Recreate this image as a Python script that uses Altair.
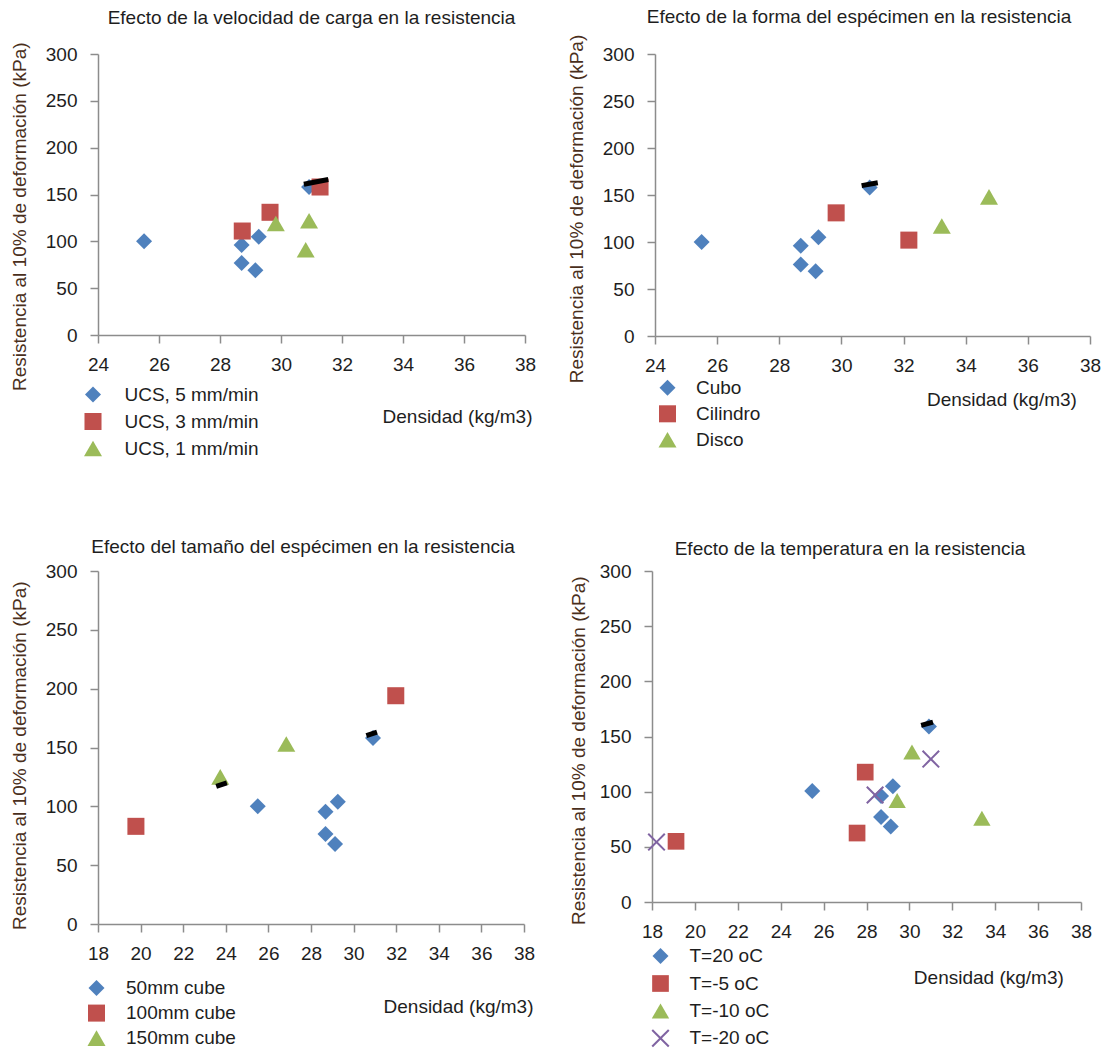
import altair as alt
import pandas as pd

FONT = "Liberation Sans"
TXT = "#1e1e1e"
YTITLE = "#4a2f1c"
AXC = "#8c8c8c"
BLUE, RED, GREEN, PURPLE = "#4F81BD", "#C0504D", "#9BBB59", "#8064A2"
X_PATH = ("M-1,-0.84L-0.16,0L-1,0.84L-0.84,1L0,0.16L0.84,1L1,0.84L0.16,0"
          "L1,-0.84L0.84,-1L0,-0.16L-0.84,-1Z")

X_TITLE = "Densidad (kg/m3)"
Y_TITLE = "Resistencia al 10% de deformación (kPa)"
Y_TICKS = [0, 50, 100, 150, 200, 250, 300]

# ---------------- Panel 1: velocidad de carga ----------------
p1_title = "Efecto de la velocidad de carga en la resistencia"
p1_series = ["UCS, 5 mm/min", "UCS, 3 mm/min", "UCS, 1 mm/min"]
p1_s1_x = [25.51, 28.71, 28.71, 29.16, 29.27, 30.92]
p1_s1_y = [100, 96, 77, 69, 105, 158]
p1_s2_x = [28.73, 29.64, 31.28]
p1_s2_y = [111, 131, 158]
p1_s3_x = [29.83, 30.81, 30.92]
p1_s3_y = [119, 91, 122]
p1_smudge_x = [30.75, 31.55]
p1_smudge_y = [161, 166]

# ---------------- Panel 2: forma del espécimen ----------------
p2_title = "Efecto de la forma del espécimen en la resistencia"
p2_series = ["Cubo", "Cilindro", "Disco"]
p2_s1_x = [25.5, 28.69, 28.69, 29.17, 29.26, 30.91]
p2_s1_y = [100, 96, 76, 69, 105, 158]
p2_s2_x = [29.83, 32.17]
p2_s2_y = [131, 102]
p2_s3_x = [33.23, 34.75]
p2_s3_y = [117, 148]
p2_smudge_x = [30.65, 31.17]
p2_smudge_y = [160, 163]

# ---------------- Panel 3: tamaño del espécimen ----------------
p3_title = "Efecto del tamaño del espécimen en la resistencia"
p3_series = ["50mm cube", "100mm cube", "150mm cube"]
p3_s1_x = [25.5, 28.68, 28.68, 29.13, 29.26, 30.91]
p3_s1_y = [100, 95.5, 76.5, 68, 104, 158]
p3_s2_x = [19.78, 31.98]
p3_s2_y = [83, 194]
p3_s3_x = [23.74, 26.84]
p3_s3_y = [125, 153]
p3_smudge_x = [30.6, 31.1]
p3_smudge_y = [160, 163]
p3_smudge2_x = [23.55, 24.05]
p3_smudge2_y = [117, 120]

# ---------------- Panel 4: temperatura ----------------
p4_title = "Efecto de la temperatura en la resistencia"
p4_series = ["T=20 oC", "T=-5 oC", "T=-10 oC", "T=-20 oC"]
p4_s1_x = [25.47, 28.68, 28.68, 29.13, 29.23, 30.91]
p4_s1_y = [100.5, 96, 77, 68.5, 105, 159]
p4_s2_x = [19.12, 27.56, 27.94]
p4_s2_y = [55, 62.5, 117.7]
p4_s3_x = [29.43, 30.12, 33.38]
p4_s3_y = [92, 136, 76]
p4_s4_x = [18.21, 28.4, 31.0]
p4_s4_y = [54.3, 97, 129.5]
p4_smudge_x = [30.55, 31.1]
p4_smudge_y = [160, 163]

COLORS = [BLUE, RED, GREEN, PURPLE]
SHAPES = ["diamond", "square", "triangle-up", X_PATH]
SIZES = [256, 324, 300, 290]


def points_df(series, xs_list, ys_list):
    rows = []
    for name, xs, ys in zip(series, xs_list, ys_list):
        for xv, yv in zip(xs, ys):
            rows.append({"serie": name, "x": xv, "y": yv})
    return pd.DataFrame(rows)


def smudge_df(segs):
    rows = []
    for i, (xs, ys) in enumerate(segs):
        for xv, yv in zip(xs, ys):
            rows.append({"seg": i, "x": xv, "y": yv})
    return pd.DataFrame(rows)


def panel(title, series, pts, segs, xdom, w, h, t_off, t_dx,
          ytx, yty, xtx, xty, lx, ly, rowpad, loff):
    n = len(series)
    xenc = alt.X("x:Q",
                 scale=alt.Scale(domain=xdom, nice=False, zero=False),
                 axis=alt.Axis(values=list(range(xdom[0], xdom[1] + 1, 2)),
                               format="d", title=X_TITLE,
                               titleX=xtx, titleY=xty, titleAlign="right",
                               titleBaseline="middle", titleAngle=0,
                               labelPadding=12, labelFlush=False,
                               labelOverlap=False))
    yenc = alt.Y("y:Q",
                 scale=alt.Scale(domain=[0, 300], nice=False),
                 axis=alt.Axis(values=Y_TICKS, title=Y_TITLE,
                               titleX=ytx, titleY=yty, titleAngle=270,
                               titleAlign="center", titleBaseline="middle",
                               titleColor=YTITLE, labelPadding=13))
    leg = alt.Legend(title=None, orient="none", legendX=lx, legendY=ly,
                     labelFont=FONT, labelFontSize=19, labelColor=TXT,
                     symbolSize=200, symbolStrokeWidth=0, rowPadding=rowpad,
                     labelOffset=loff, padding=0, labelLimit=400)
    p = alt.Chart(pts).mark_point(filled=True, opacity=1).encode(
        x=xenc, y=yenc,
        color=alt.Color("serie:N", sort=series,
                        scale=alt.Scale(domain=series, range=COLORS[:n]),
                        legend=leg),
        shape=alt.Shape("serie:N", sort=series,
                        scale=alt.Scale(domain=series, range=SHAPES[:n]),
                        legend=leg),
        size=alt.Size("serie:N", sort=series,
                      scale=alt.Scale(domain=series, range=SIZES[:n]),
                      legend=None),
    )
    s = alt.Chart(smudge_df(segs)).mark_line(
        color="black", strokeWidth=5, strokeCap="butt"
    ).encode(x=xenc, y=yenc, detail="seg:N")
    return alt.layer(p, s).properties(
        width=w, height=h,
        title=alt.Title(title, font=FONT, fontSize=19, fontWeight="normal",
                        color=TXT, anchor="middle", frame="group",
                        offset=t_off, dx=t_dx, baseline="middle"),
    )


c1 = panel(p1_title, p1_series,
           points_df(p1_series, [p1_s1_x, p1_s2_x, p1_s3_x],
                     [p1_s1_y, p1_s2_y, p1_s3_y]),
           [(p1_smudge_x, p1_smudge_y)], [24, 38], 427, 281, 5.2, 0,
           -78.7, 162.2, 434, 81.5, -14.5, 331, 7, 22)
c2 = panel(p2_title, p2_series,
           points_df(p2_series, [p2_s1_x, p2_s2_x, p2_s3_x],
                     [p2_s1_y, p2_s2_y, p2_s3_y]),
           [(p2_smudge_x, p2_smudge_y)], [24, 38], 435, 282, -2.2, -13.5,
           -78.5, 154.5, 421.4, 63.5, 3, 324.3, 6, 19)
c3 = panel(p3_title, p3_series,
           points_df(p3_series, [p3_s1_x, p3_s2_x, p3_s3_x],
                     [p3_s1_y, p3_s2_y, p3_s3_y]),
           [(p3_smudge_x, p3_smudge_y), (p3_smudge2_x, p3_smudge2_y)],
           [18, 38], 426, 353, -3.8, -8,
           -78.7, 184.2, 435, 82.1, -11, 407.6, 5, 20)
c4 = panel(p4_title, p4_series,
           points_df(p4_series, [p4_s1_x, p4_s2_x, p4_s3_x, p4_s4_x],
                     [p4_s1_y, p4_s2_y, p4_s3_y, p4_s4_y]),
           [(p4_smudge_x, p4_smudge_y)], [18, 38], 429, 331, -5.8, -16.5,
           -73.7, 179.2, 411.3, 75.7, -1, 375.6, 7.4, 19.5)

RES = dict(x="independent", y="independent", color="independent",
           shape="independent", size="independent")

top = alt.hconcat(c1, c2, spacing=130, bounds="flush").resolve_scale(**RES)
bottom = alt.hconcat(c3, c4, spacing=128, bounds="flush").resolve_scale(**RES)

chart = alt.vconcat(top, bottom, spacing=517, bounds="flush").resolve_scale(
    **RES
).properties(
    padding={"left": 10, "top": 8, "right": 0, "bottom": 0},
    background="white",
).configure_view(stroke=None).configure_axis(
    domainColor=AXC, domainWidth=1.5, tickColor=AXC, tickWidth=1.5,
    tickSize=8, labelFont=FONT, labelFontSize=19, labelColor=TXT,
    grid=False, titleFont=FONT, titleFontSize=19, titleFontWeight="normal",
    titleColor=TXT,
)

chart.save("out.html", embed_options={"renderer": "svg", "actions": False})
